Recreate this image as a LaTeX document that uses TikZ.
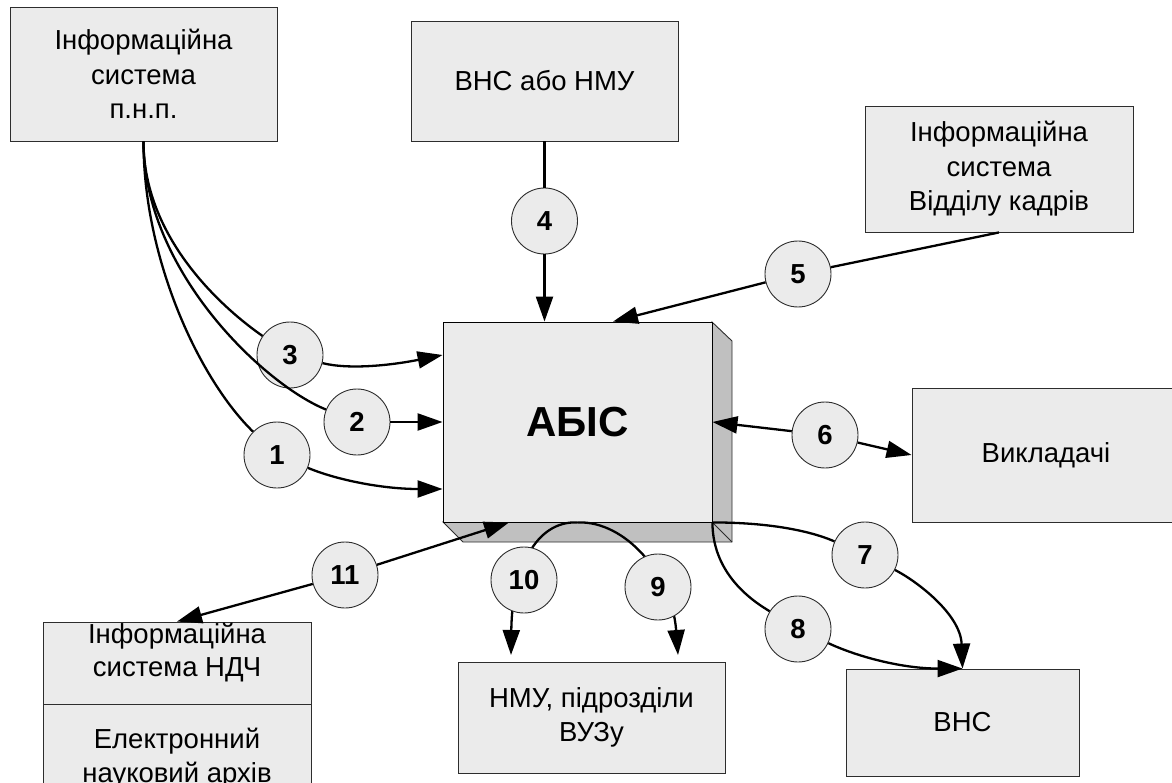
\documentclass[tikz,border=0pt]{standalone}
\usepackage{fontspec}
\setmainfont{Liberation Sans}
\usetikzlibrary{arrows.meta}
\definecolor{boxfill}{RGB}{235,235,235}
\definecolor{sidefill}{RGB}{192,192,192}
\definecolor{edgegray}{RGB}{45,45,45}
\begin{document}
\begin{tikzpicture}[x=1pt,y=-1pt,
  box/.style={draw=edgegray, fill=boxfill, line width=0.9pt, inner sep=0pt, align=center,
    font=\fontsize{27.5}{34.5}\selectfont},
  plain/.style={inner sep=0pt, align=center, font=\fontsize{27.5}{33}\selectfont},
  num/.style={circle, draw=edgegray, fill=boxfill, line width=0.9pt, minimum size=66pt,
    inner sep=0pt, font=\fontsize{27.5}{30}\selectfont\bfseries},
  link/.style={line width=2.3pt},
  conn/.style={line width=2.3pt, -{Triangle[length=25pt,width=17pt]}},
]
\useasboundingbox (0,0) rectangle (1172,783);
\clip (0,0) rectangle (1172,783);

% boxes
\node[box, minimum width=267pt, minimum height=134pt] (p) at (143.5,74) {Інформаційна\\система\\п.н.п.};
\node[box, minimum width=267pt, minimum height=120pt] (vnmu) at (544.5,81) {ВНС або НМУ};
\node[box, minimum width=268pt, minimum height=126pt] (kadry) at (999,169) {Інформаційна\\система\\Відділу кадрів};
\node[box, minimum width=268pt, minimum height=134pt] (vykl) at (1046,455) {Викладачі};
\node[box, minimum width=233pt, minimum height=107pt] (vns) at (962.5,722.5) {ВНС};
\node[box, minimum width=267pt, minimum height=111pt] (nmu) at (591.5,717.5) {НМУ, підрозділи\\ВУЗу};
\node[box, minimum width=268pt, minimum height=82pt] (ndch) at (177,663) {};
\node[plain] (ndchtxt) at (177,653) {Інформаційна\\система НДЧ};
\node[box, minimum width=268pt, minimum height=108pt] (arch) at (177,758) {Електронний\\науковий архів};

% cube
\filldraw[fill=sidefill, draw=edgegray, line width=0.9pt]
  (712,322) -- (732,341) -- (732,542) -- (463,542) -- (443,522) -- (712,522) -- cycle;
\draw[edgegray, line width=0.9pt] (712,522) -- (732,542);
\node[box, draw=black, minimum width=269pt, minimum height=200pt,
  font=\fontsize{42}{48}\selectfont\bfseries] (abis) at (577.5,422) {АБІС};

% arcs 9 and 10 (under their circles)
\coordinate (t10) at (511,655);
\coordinate (t9) at (678,655);
\draw[conn] (abis.south) .. controls +(-42,-2) and +(1,-85) .. (t10);
\draw[conn] (abis.south) .. controls +(48,-2) and +(-6,-80) .. (t9);

% numbered circles
\node[num] (c1) at (277,455) {1};
\node[num] (c2) at (357,422) {2};
\node[num] (c3) at (290,355) {3};
\node[num] (c4) at (544.5,221) {4};
\node[num] (c5) at (798,274) {5};
\node[num] (c6) at (825,435) {6};
\node[num] (c7) at (865,555) {7};
\node[num] (c8) at (798,629) {8};
\node[num] (c9) at (658,587) {9};
\node[num] (c10) at (524,580) {10};
\node[num] (c11) at (345,575) {11};

% 1, 2, 3
\draw[link] (p.south) .. controls +(0,119) and +(-77,-75) .. (c1);
\draw[conn] (c1) .. controls +(60,25) and +(-60,0) .. ([yshift=-67pt]abis.west);
\draw[link] (p.south) .. controls +(0,130) and +(-92,-37) .. (c2);
\draw[conn] (c2) -- (abis.west);
\draw[link] (p.south) .. controls +(0,100) and +(-62,-43) .. (c3);
\draw[conn] (c3) .. controls +(60,15) and +(-50,10) .. ([yshift=67pt]abis.west);

% 4
\draw[link] (vnmu.south) -- (c4);
\draw[conn] (c4) -- (c4 |- abis.north);

% 5
\draw[link] (kadry.south) -- (c5);
\draw[conn] (c5) -- ([xshift=35.5pt]abis.north);

% 6
\draw[conn] (c6) -- (abis.east);
\draw[conn] (c6) -- (vykl.west);

% 7
\draw[link] (abis.south east) .. controls +(70,0) and +(-45,-20) .. (c7);
\draw[conn] (c7) .. controls +(50,25) and +(-2,-55) .. (vns.north);

% 8
\draw[link] (abis.south east) .. controls +(0,55) and +(-40,-25) .. (c8);
\draw[conn] (c8) .. controls +(60,28) and +(-60,0) .. (vns.north);

% 11
\draw[conn] (c11) -- (ndch.north);
\draw[conn] (c11) -- ([xshift=-68.5pt]abis.south);
\end{tikzpicture}
\end{document}
